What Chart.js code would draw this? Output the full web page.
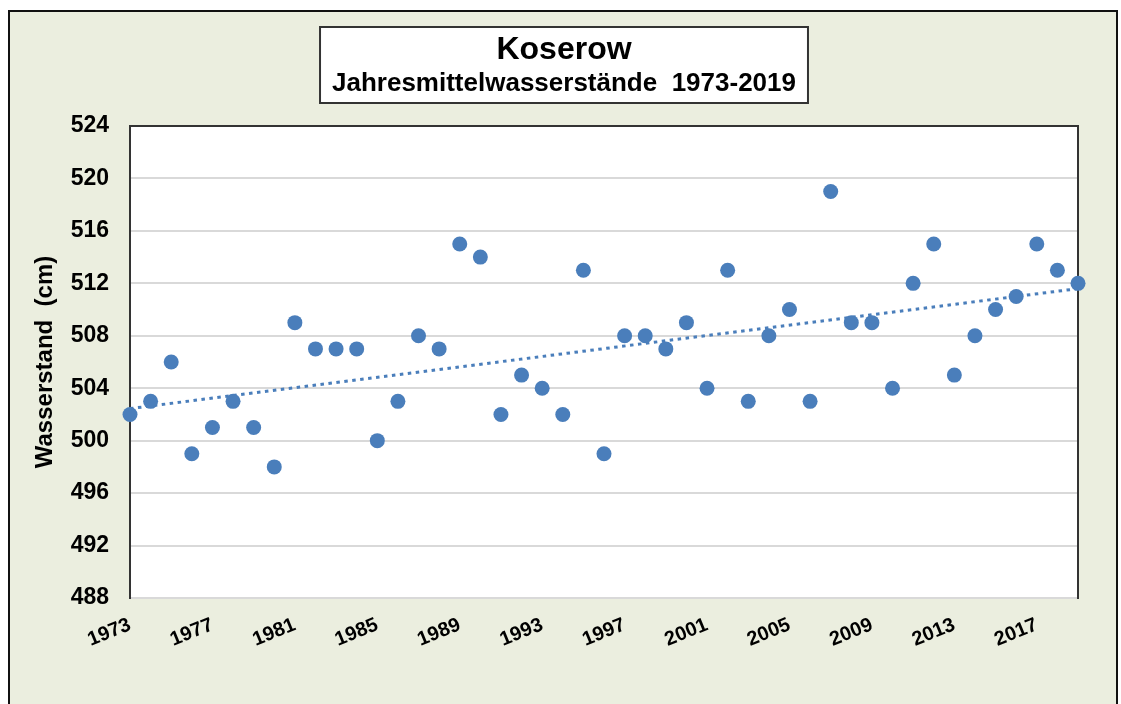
<!DOCTYPE html>
<html>
<head>
<meta charset="utf-8">
<script src="https://cdn.jsdelivr.net/npm/chart.js@4.4.1/dist/chart.umd.min.js"></script>
<style>
  html, body { margin: 0; padding: 0; background: #ffffff; width: 1121px; height: 704px; overflow: hidden; }
  #frame { position: absolute; left: 8px; top: 10px; width: 1110px; height: 720px; border: 2px solid #111; background: #ebeedf; box-sizing: border-box; }
  #wrap { position: absolute; left: 0; top: 0; width: 1121px; height: 704px; }
</style>
</head>
<body>
<div id="frame"></div>
<div id="wrap"><canvas id="c" width="1121" height="704"></canvas></div>
<script>
// ---- data ----
const years = [1973, 1974, 1975, 1976, 1977, 1978, 1979, 1980, 1981, 1982,
               1983, 1984, 1985, 1986, 1987, 1988, 1989, 1990, 1991, 1992,
               1993, 1994, 1995, 1996, 1997, 1998, 1999, 2000, 2001, 2002,
               2003, 2004, 2005, 2006, 2007, 2008, 2009, 2010, 2011, 2012,
               2013, 2014, 2015, 2016, 2017, 2018, 2019];
const levels = [502, 503, 506, 499, 501, 503, 501, 498, 509, 507,
                507, 507, 500, 503, 508, 507, 515, 514, 502, 505,
                504, 502, 513, 499, 508, 508, 507, 509, 504, 513,
                503, 508, 510, 503, 519, 509, 509, 504, 512, 515,
                505, 508, 510, 511, 515, 513, 512];
const xTickYears = [1973, 1977, 1981, 1985, 1989, 1993, 1997, 2001, 2005, 2009, 2013, 2017];
const yTickValues = [488, 492, 496, 500, 504, 508, 512, 516, 520, 524];
const chartTitle = 'Koserow';
const chartSubtitle = 'Jahresmittelwasserstände  1973-2019';
const yAxisTitle = 'Wasserstand  (cm)';

// ---- linear trend (least squares) from the data ----
const n = years.length;
const mx = years.reduce((a, b) => a + b, 0) / n;
const my = levels.reduce((a, b) => a + b, 0) / n;
let sxy = 0, sxx = 0;
for (let i = 0; i < n; i++) { sxy += (years[i] - mx) * (levels[i] - my); sxx += (years[i] - mx) ** 2; }
const slope = sxy / sxx;
const icpt = my - slope * mx;
const trendPoints = [years[0], years[n - 1]].map(x => ({ x: x, y: icpt + slope * x }));

const FONT = "'Liberation Sans', Arial, Helvetica, sans-serif";
const BLUE = '#4a7ebb';

const plotBgPlugin = {
  id: 'plotBg',
  beforeDraw(chart) {
    const { ctx, chartArea: a } = chart;
    ctx.save();
    ctx.fillStyle = '#ffffff';
    ctx.fillRect(a.left, a.top, a.right - a.left, a.bottom - a.top);
    // title box
    ctx.font = 'bold 26px ' + FONT;
    const w = ctx.measureText(chartSubtitle).width + 24;
    const cx = (chart.titleBlock.left + chart.titleBlock.right) / 2;
    ctx.fillStyle = '#ffffff';
    ctx.fillRect(cx - w / 2, 27, w, 76);
    ctx.strokeStyle = '#333333';
    ctx.lineWidth = 2;
    ctx.strokeRect(cx - w / 2, 27, w, 76);
    ctx.restore();
  },
  beforeDatasetsDraw(chart) {
    const { ctx, chartArea: a } = chart;
    ctx.save();
    ctx.strokeStyle = '#333333';
    ctx.lineWidth = 2;
    ctx.beginPath();
    ctx.moveTo(a.left - 1, a.top);
    ctx.lineTo(a.right + 1, a.top);
    ctx.stroke();
    ctx.restore();
  }
};

new Chart(document.getElementById('c'), {
  type: 'scatter',
  data: {
    datasets: [
      {
        label: 'Jahresmittelwasserstand',
        data: years.map((y, i) => ({ x: y, y: levels[i] })),
        backgroundColor: BLUE,
        borderColor: BLUE,
        borderWidth: 0,
        pointRadius: 7.5,
        pointHoverRadius: 7.5,
        clip: false,
        order: 1
      },
      {
        type: 'line',
        label: 'Trend',
        data: trendPoints,
        borderColor: BLUE,
        borderWidth: 3,
        borderDash: [3.5, 4.5],
        borderCapStyle: 'butt',
        pointRadius: 0,
        fill: false,
        clip: false,
        order: 2
      }
    ]
  },
  options: {
    responsive: false,
    animation: false,
    events: [],
    layout: { padding: { left: 7, right: 0, top: 0, bottom: 0 } },
    plugins: {
      legend: { display: false },
      tooltip: { enabled: false },
      title: {
        display: true, text: chartTitle, color: '#000',
        font: { family: FONT, size: 32, weight: 'bold', lineHeight: 1.0 },
        padding: { top: 34.5, bottom: 0 }
      },
      subtitle: {
        display: true, text: chartSubtitle, color: '#000',
        font: { family: FONT, size: 26, weight: 'bold', lineHeight: 1.0 },
        padding: { top: 4, bottom: 29.5 }
      }
    },
    scales: {
      x: {
        type: 'linear', min: 1973, max: 2019,
        afterBuildTicks: s => { s.ticks = xTickYears.map(v => ({ value: v })); },
        afterFit: s => { s.height = 106; },
        grid: { display: false, drawTicks: false },
        border: { display: false },
        ticks: {
          autoSkip: false, minRotation: 22, maxRotation: 22, padding: 15,
          color: '#000', font: { family: FONT, size: 20, weight: 'bold' },
          callback: v => String(v)
        }
      },
      y: {
        type: 'linear', position: 'left', min: 488, max: 524,
        afterBuildTicks: s => { s.ticks = yTickValues.map(v => ({ value: v })); },
        afterFit: s => { s.width = 123; },
        grid: { color: '#d9d9d9', lineWidth: 2, drawTicks: false },
        border: { display: true, color: '#333333', width: 2 },
        ticks: { padding: 21, color: '#000', font: { family: FONT, size: 23, weight: 'bold' }, callback: v => String(v) },
        title: {
          display: true, text: yAxisTitle, color: '#000',
          font: { family: FONT, size: 24, weight: 'bold', lineHeight: 1.2 },
          padding: { top: 23.6, bottom: 0 }
        }
      },
      y2: {
        type: 'linear', position: 'right', min: 488, max: 524,
        afterFit: s => { s.width = 43; },
        grid: { display: false, drawTicks: false },
        border: { display: true, color: '#333333', width: 2 },
        ticks: { display: false }
      }
    }
  },
  plugins: [plotBgPlugin]
});
</script>
</body>
</html>
